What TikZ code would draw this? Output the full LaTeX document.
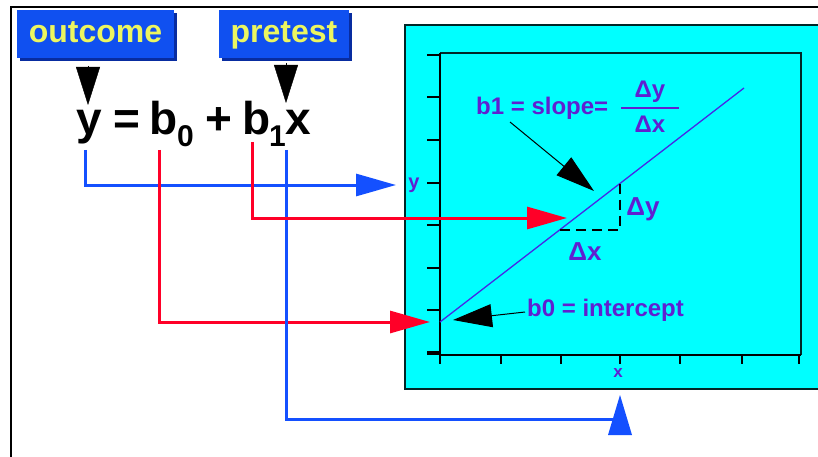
\documentclass[tikz,border=0pt]{standalone}
\usepackage{fontspec}
\setmainfont{Liberation Sans}
\usetikzlibrary{arrows.meta,shadows}
\definecolor{boxblue}{RGB}{16,80,240}
\definecolor{boxshadow}{RGB}{8,44,160}
\definecolor{lblyellow}{RGB}{236,246,96}
\definecolor{lineblue}{RGB}{20,80,255}
\definecolor{linered}{RGB}{255,0,40}
\definecolor{panelcyan}{RGB}{0,255,255}
\definecolor{paneledge}{RGB}{0,40,40}
\definecolor{txtpurple}{RGB}{96,32,208}
\definecolor{regline}{RGB}{70,40,230}
\begin{document}
\begin{tikzpicture}[x=1pt,y=-1pt,
  eqtxt/.style={font=\fontsize{46}{50}\selectfont\bfseries, inner sep=0, anchor=base},
  subtxt/.style={font=\fontsize{30}{32}\selectfont\bfseries, inner sep=0, anchor=base},
  lblbox/.style={fill=boxblue, minimum width=157pt, minimum height=48pt, inner sep=0,
    text height=18pt, text depth=0pt,
    font=\fontsize{32}{34}\selectfont\bfseries, text=lblyellow,
    general shadow={fill=boxshadow, shadow xshift=3pt, shadow yshift=-3pt}},
  ptxt/.style={font=\fontsize{24}{26}\selectfont\bfseries, text=txtpurple, inner sep=0},
  blueconn/.style={draw=lineblue, line width=3pt, -{Triangle[length=40pt,width=22pt]}},
  redconn/.style={draw=linered, line width=3pt, -{Triangle[length=40pt,width=22pt]}},
  blkdown/.style={draw=black, line width=0.4pt, -{Triangle[length=38pt,width=24pt]}},
  blkarr/.style={draw=black, line width=1pt, -{Triangle[length=39pt,width=23pt]}},
  tick/.style={draw=black, line width=2pt},
  dashline/.style={draw=black, line width=1.5pt, dash pattern=on 10pt off 6pt}
]
\useasboundingbox (0,0) rectangle (818,457);
\fill[white] (0,0) rectangle (818,457);

% outer frame
\draw[black, line width=2pt] (818,7) -- (11,7) -- (11,457);

% label boxes
\node[lblbox] (outcome) at (95.5,34) {outcome};
\node[lblbox, minimum width=130pt] (pretest) at (284,34) {pretest};

% equation
\node[eqtxt] (eqy) at (89,135) {y};
\node[eqtxt] (eqeq) at (127,135) {=};
\node[eqtxt] (eqb0) at (164,135) {b};
\node[subtxt] (eqs0) at (185.5,147) {0};
\node[eqtxt] (eqplus) at (219,135) {+};
\node[eqtxt] (eqb1) at (256.5,135) {b};
\node[subtxt] (eqs1) at (277.5,147) {1};
\node[eqtxt] (eqx) at (298.5,135) {x};

% black down arrows
\coordinate (oc0) at (88,66);
\coordinate (oc1) at (88,105);
\coordinate (pt0) at (286,63);
\coordinate (pt1) at (286,103);
\draw[blkdown] (oc0) -- (oc1);
\draw[blkdown] (pt0) -- (pt1);

% panel
\fill[panelcyan] (405,25) rectangle (818,389);
\draw[paneledge, line width=2.2pt] (818,25) -- (405,25) -- (405,389) -- (818,389);

% inner plot frame
\draw[paneledge, line width=1.8pt] (440,53) -- (801,53) -- (801,355);
\draw[black, line width=2pt] (440,53) -- (440,355) -- (801,355);
\foreach \yy in {55,97,140,183,225,268,310}{\draw[tick] (427,\yy) -- (440,\yy);}
\draw[black, line width=3.2pt] (427,353) -- (440,353);
\foreach \xx in {440,501,561,620,680,742,799}{\draw[tick] (\xx,355) -- (\xx,364);}

\node[font=\fontsize{20}{22}\selectfont\bfseries, text=txtpurple, inner sep=0, anchor=base] (ylab) at (414,188) {y};
\node[font=\fontsize{17}{19}\selectfont\bfseries, text=txtpurple, inner sep=0, anchor=base] (xlab) at (618,377) {x};

% regression line
\coordinate (r0) at (440,322);
\coordinate (r1) at (744,88);
\draw[regline, line width=1.3pt] (r0) -- (r1);

% delta dashed
\coordinate (d0) at (620,183.5);
\coordinate (d1) at (620,230);
\coordinate (d2) at (560,230);
\draw[dashline] (d0) -- (d1);
\draw[dashline] (d2) -- (d1);
\node[ptxt, font=\fontsize{26}{28}\selectfont\bfseries, anchor=base] (dy) at (643,215) {Δy};
\node[ptxt, font=\fontsize{26}{28}\selectfont\bfseries, anchor=base] (dx) at (585,260) {Δx};

% slope label
\node[ptxt, anchor=base west] (slope) at (476,115) {b1 = slope=};
\node[ptxt, anchor=base] (fracnum) at (650,98) {Δy};
\node[ptxt, anchor=base] (fracden) at (650,133) {Δx};
\draw[txtpurple, line width=1.6pt] (621,108) -- (679,108);
\coordinate (sa0) at (510,122);
\coordinate (sa1) at (594,191);
\draw[blkarr] (sa0) -- (sa1);

% intercept label
\node[ptxt, anchor=base west] (icpt) at (527,316) {b0 = intercept};
\coordinate (ia0) at (525,312);
\coordinate (ia1) at (453,320);
\draw[blkarr] (ia0) -- (ia1);

% connectors
\coordinate (cy0) at (85,150);
\coordinate (cy1) at (396,185);
\coordinate (cb00) at (159,150);
\coordinate (cb01) at (430,322);
\coordinate (cb10) at (252,142);
\coordinate (cb11) at (567,218);
\coordinate (cx0) at (286,150);
\coordinate (cx1) at (620,419);
\draw[blueconn] (cy0) |- (cy1);
\draw[redconn] (cb00) |- (cb01);
\draw[blueconn, -] (cx0) |- (cx1);
\draw[redconn] (cb10) |- (cb11);
\fill[lineblue] (608,435) -- (632,435) -- (620,395) -- cycle;
\end{tikzpicture}
\end{document}
